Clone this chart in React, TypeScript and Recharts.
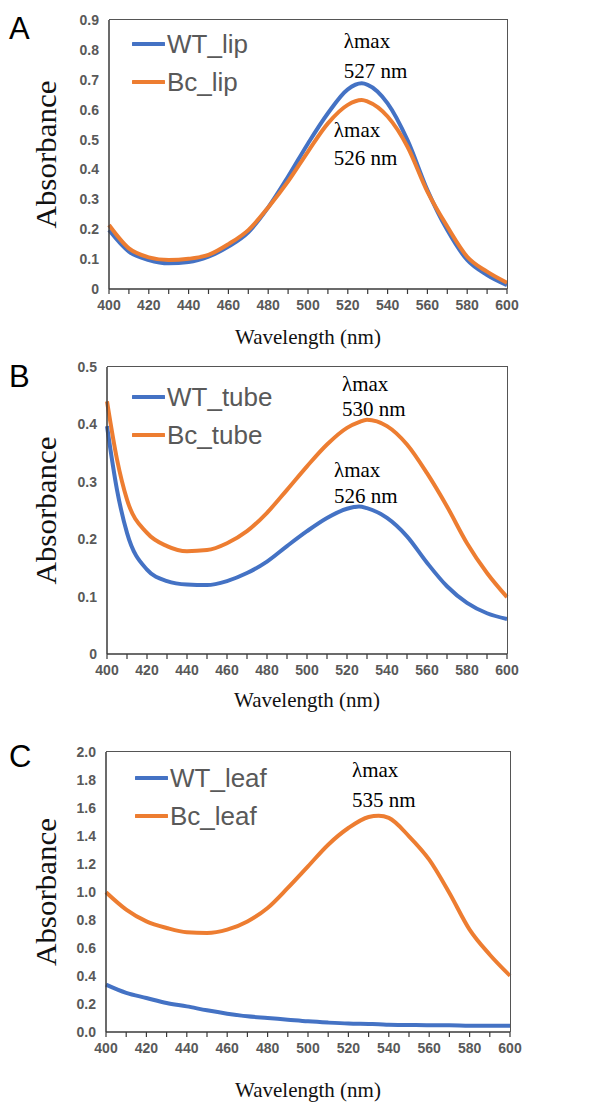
import React from 'react';
import { LineChart, Line, XAxis, YAxis, ReferenceDot } from 'recharts';

// wavelength ticks (every 10 nm, labels every 20 nm)
const xTicks = [400, 410, 420, 430, 440, 450, 460, 470, 480, 490, 500, 510, 520, 530, 540, 550, 560, 570, 580, 590, 600];

// panel A - lip
const wlA = [400, 410, 420, 430, 440, 450, 460, 470, 480, 490, 500, 510, 520, 527, 530, 540, 550, 560, 570, 580, 590, 600];
const wtLip = [0.197, 0.125, 0.097, 0.086, 0.09, 0.108, 0.142, 0.19, 0.273, 0.376, 0.487, 0.588, 0.668, 0.688, 0.683, 0.621, 0.498, 0.331, 0.197, 0.097, 0.047, 0.013];
const bcLip = [0.214, 0.136, 0.106, 0.097, 0.101, 0.114, 0.15, 0.197, 0.273, 0.36, 0.46, 0.554, 0.616, 0.632, 0.627, 0.577, 0.476, 0.326, 0.209, 0.108, 0.058, 0.021];
const yTicksA = [0, 0.1, 0.2, 0.3, 0.4, 0.5, 0.6, 0.7, 0.8, 0.9];

// panel B - tube
const wlB = [400, 405, 410, 420, 430, 440, 450, 460, 470, 480, 490, 500, 510, 520, 526, 530, 540, 550, 560, 570, 580, 590, 600];
const wtTube = [0.397, 0.286, 0.211, 0.147, 0.127, 0.121, 0.12, 0.127, 0.141, 0.161, 0.188, 0.214, 0.237, 0.253, 0.257, 0.254, 0.237, 0.205, 0.159, 0.118, 0.089, 0.071, 0.061];
const bcTube = [0.44, 0.339, 0.269, 0.211, 0.188, 0.179, 0.181, 0.193, 0.214, 0.246, 0.286, 0.327, 0.365, 0.394, 0.404, 0.408, 0.397, 0.365, 0.315, 0.257, 0.193, 0.141, 0.099];
const yTicksB = [0, 0.1, 0.2, 0.3, 0.4, 0.5];

// panel C - leaf
const wlC = [400, 410, 420, 430, 440, 450, 460, 470, 480, 490, 500, 510, 520, 530, 535, 540, 550, 560, 570, 580, 590, 600];
const wtLeaf = [0.338, 0.279, 0.243, 0.207, 0.183, 0.155, 0.131, 0.112, 0.1, 0.088, 0.076, 0.067, 0.06, 0.057, 0.055, 0.052, 0.05, 0.048, 0.048, 0.045, 0.045, 0.045];
const bcLeaf = [0.998, 0.874, 0.79, 0.743, 0.712, 0.707, 0.731, 0.79, 0.886, 1.029, 1.183, 1.338, 1.457, 1.536, 1.545, 1.529, 1.398, 1.231, 0.993, 0.731, 0.552, 0.402];
const yTicksC = [0, 0.2, 0.4, 0.6, 0.8, 1.0, 1.2, 1.4, 1.6, 1.8, 2.0];

// peak annotations: anchor at left edge / baseline of first line
const annotA = [
  { x: 518, y: 0.806, lines: ['λmax', '527 nm'], gap: 30 },
  { x: 513, y: 0.508, lines: ['λmax', '526 nm'], gap: 28 },
];
const annotB = [
  { x: 517.5, y: 0.458, lines: ['λmax', '530 nm'], gap: 25 },
  { x: 513.5, y: 0.308, lines: ['λmax', '526 nm'], gap: 26 },
];
const annotC = [
  { x: 521.8, y: 1.82, lines: ['λmax', '535 nm'], gap: 30 },
];

const BLUE = '#4472C4';
const ORANGE = '#ED7D31';
const AXIS = '#3a3a3a';
const SANS = 'Liberation Sans, Arial, sans-serif';
const SERIF = 'Liberation Serif, Times New Roman, serif';
const Y_AXIS_W = 89;

type Annot = { x: number; y: number; lines: string[]; gap: number };

function rows(wl: number[], a: number[], b: number[], ka: string, kb: string) {
  return wl.map((w, i) => ({ wl: w, [ka]: a[i], [kb]: b[i] }));
}

function XTick(props: any) {
  const { x, y, payload } = props;
  const v = payload.value as number;
  if (v % 20 !== 0) return null;
  return (
    <text x={x} y={y + 16} textAnchor="middle" fontFamily={SANS} fontSize={14} fontWeight="bold" fill="#595959">
      {v}
    </text>
  );
}

function makeYTick(fmt: (v: number) => string) {
  return (props: any) => {
    const { x, y, payload } = props;
    return (
      <text x={x} y={y + 5} textAnchor="end" fontFamily={SANS} fontSize={14} fontWeight="bold" fill="#595959">
        {fmt(payload.value)}
      </text>
    );
  };
}

function LegendBox({ names, left, top }: { names: string[]; left: number; top: number }) {
  const colors = [BLUE, ORANGE];
  return (
    <div style={{ position: 'absolute', left, top }}>
      {names.map((n, i) => (
        <div key={n} style={{ display: 'flex', alignItems: 'center', height: 38 }}>
          <svg width={33} height={6}>
            <line x1={1} y1={3} x2={32} y2={3} stroke={colors[i]} strokeWidth={4} strokeLinecap="round" />
          </svg>
          <span style={{ fontFamily: SANS, fontSize: 26, color: '#595959', marginLeft: 2, lineHeight: '38px' }}>{n}</span>
        </div>
      ))}
    </div>
  );
}

interface PanelProps {
  top: number;
  height: number;
  data: any[];
  keys: string[];
  yMax: number;
  yTicks: number[];
  yFmt: (v: number) => string;
  margin: { top: number; right: number; bottom: number; left: number };
  xAxisHeight: number;
  xLabelDy: number;
  legendTop: number;
  legendLeft: number;
  annots: Annot[];
}

function Panel(p: PanelProps) {
  // plot box edges, from the same margins the chart uses
  const left = p.margin.left + Y_AXIS_W;
  const right = 590 - p.margin.right;
  const top = p.margin.top;
  const bottom = p.height - p.margin.bottom - p.xAxisHeight;
  return (
    <div style={{ position: 'absolute', left: 0, top: p.top, width: 590, height: p.height }}>
      <div style={{ position: 'absolute', left: 0, top: 0 }}>
        <LineChart width={590} height={p.height} data={p.data} margin={p.margin}>
          <XAxis
            dataKey="wl"
            type="number"
            domain={[400, 600]}
            ticks={xTicks}
            interval={0}
            tickSize={5}
            tickMargin={0}
            height={p.xAxisHeight}
            axisLine={{ stroke: AXIS, strokeWidth: 1.5 }}
            tickLine={{ stroke: AXIS, strokeWidth: 1.2 }}
            tick={<XTick />}
            label={(lp: any) => {
              const vb = lp.viewBox;
              return (
                <text x={vb.x + vb.width / 2} y={vb.y + p.xLabelDy} textAnchor="middle" fontFamily={SERIF} fontSize={21} fill="#111">
                  Wavelength (nm)
                </text>
              );
            }}
          />
          <YAxis
            type="number"
            domain={[0, p.yMax]}
            ticks={p.yTicks}
            interval={0}
            width={Y_AXIS_W}
            tickLine={false}
            tickSize={0}
            tickMargin={10}
            axisLine={{ stroke: AXIS, strokeWidth: 1.5 }}
            tick={makeYTick(p.yFmt)}
            label={(lp: any) => {
              const vb = lp.viewBox;
              const cy = vb.y + vb.height / 2;
              return (
                <text x={45} y={cy} transform={`rotate(-90 45 ${cy})`} textAnchor="middle" dominantBaseline="central" fontFamily={SERIF} fontSize={30} fill="#111" textLength={148} lengthAdjust="spacingAndGlyphs">
                  Absorbance
                </text>
              );
            }}
          />
          <Line type="monotone" dataKey={p.keys[0]} stroke={BLUE} strokeWidth={4} dot={false} isAnimationActive={false} />
          <Line type="monotone" dataKey={p.keys[1]} stroke={ORANGE} strokeWidth={4} dot={false} isAnimationActive={false} />
          {p.annots.map((a, i) => (
            <ReferenceDot
              key={i}
              x={a.x}
              y={a.y}
              r={0}
              fill="none"
              stroke="none"
              label={(lp: any) => {
                const vb = lp.viewBox;
                return (
                  <text x={vb.x} y={vb.y} fontFamily={SERIF} fontSize={21} fill="#000">
                    {a.lines.map((t, j) => (
                      <tspan key={j} x={vb.x} y={vb.y + j * a.gap}>{t}</tspan>
                    ))}
                  </text>
                );
              }}
            />
          ))}
        </LineChart>
      </div>
      {/* top and right edges of the plot box */}
      <div
        style={{
          position: 'absolute',
          left,
          top: top - 1,
          width: right - left,
          height: bottom - top,
          borderTop: '1px solid #555',
          borderRight: '1px solid #555',
          pointerEvents: 'none',
        }}
      />
      <LegendBox names={p.keys} left={p.legendLeft} top={p.legendTop} />
    </div>
  );
}

const fmt1 = (v: number) => String(v);
const fmtFixed = (v: number) => v.toFixed(1);

export default function App() {
  const dataA = rows(wlA, wtLip, bcLip, 'WT_lip', 'Bc_lip');
  const dataB = rows(wlB, wtTube, bcTube, 'WT_tube', 'Bc_tube');
  const dataC = rows(wlC, wtLeaf, bcLeaf, 'WT_leaf', 'Bc_leaf');
  const letter = { fontFamily: SANS, fontSize: 31, fill: '#000' };
  return (
    <div style={{ position: 'absolute', left: 0, top: 0, width: 590, height: 1105, background: '#fff' }}>
      <Panel
        top={0}
        height={350}
        data={dataA}
        keys={['WT_lip', 'Bc_lip']}
        yMax={0.9}
        yTicks={yTicksA}
        yFmt={fmt1}
        margin={{ top: 20, right: 83, bottom: 1, left: 20 }}
        xAxisHeight={60}
        xLabelDy={55}
        legendLeft={132}
        legendTop={25}
        annots={annotA}
      />
      <Panel
        top={350}
        height={370}
        data={dataB}
        keys={['WT_tube', 'Bc_tube']}
        yMax={0.5}
        yTicks={yTicksB}
        yFmt={fmt1}
        margin={{ top: 17, right: 83, bottom: 6, left: 18 }}
        xAxisHeight={60}
        xLabelDy={53}
        legendLeft={132}
        legendTop={28}
        annots={annotB}
      />
      <Panel
        top={720}
        height={385}
        data={dataC}
        keys={['WT_leaf', 'Bc_leaf']}
        yMax={2.0}
        yTicks={yTicksC}
        yFmt={fmtFixed}
        margin={{ top: 32, right: 80, bottom: 3, left: 17 }}
        xAxisHeight={70}
        xLabelDy={65}
        legendLeft={135}
        legendTop={39}
        annots={annotC}
      />
      <svg width={590} height={1105} style={{ position: 'absolute', left: 0, top: 0, pointerEvents: 'none' }}>
        <text x={9} y={39} {...letter}>A</text>
        <text x={9} y={387} {...letter}>B</text>
        <text x={9} y={767} {...letter}>C</text>
      </svg>
    </div>
  );
}
